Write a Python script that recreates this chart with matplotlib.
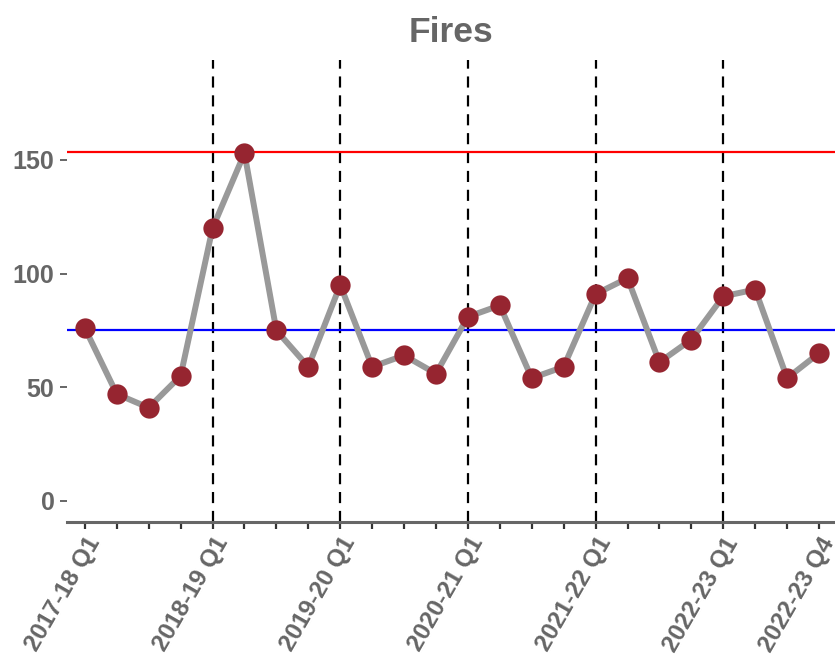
import matplotlib
matplotlib.use("Agg")
import matplotlib.pyplot as plt
import numpy as np

plt.rcParams['font.family'] = ['Liberation Sans', 'DejaVu Sans']

quarters = [f"{y}-{str(y+1)[2:]} Q{q}" for y in range(2017, 2023) for q in range(1, 5)]
values = [76, 47, 41, 55, 120, 153, 75, 59, 95, 59, 64, 56,
          81, 86, 54, 59, 91, 98, 61, 71, 90, 93, 54, 65]
mean_line = 75.1
upper_line = 153.6
yticks = [0, 50, 100, 150]
label_idx = [0, 4, 8, 12, 16, 20, 23]
year_starts = [4, 8, 12, 16, 20]

TXT = '#666666'
fig = plt.figure(figsize=(8.35, 6.55), dpi=100)
ax = fig.add_axes([67/835, 1-522/655, 1-67/835, (522-60)/655])

x = np.arange(len(values))
for xs in year_starts:
    ax.axvline(xs, color='black', lw=1.6, ls=(0, (5, 3.5)), zorder=1)
ax.axhline(upper_line, color='#FF0000', lw=1.6, zorder=2)
ax.axhline(mean_line, color='#0000FF', lw=1.6, zorder=2)
ax.plot(x, values, color='#999999', lw=4.3, zorder=3, solid_capstyle='butt')
ax.plot(x, values, 'o', color='#962530', markersize=14.6, markeredgewidth=0, zorder=4)

ax.set_xlim(-0.56, 23.5)
ax.set_ylim(-9.3, 194)

ax.set_xticks(x)
ax.set_xticklabels([quarters[i] if i in label_idx else '' for i in x],
                   rotation=60, ha='right', rotation_mode='anchor',
                   fontsize=17.5, fontweight='bold', color=TXT)
ax.tick_params(axis='x', length=5, width=1.6, color='#333333', pad=3)
ax.set_yticks(yticks)
ax.set_yticklabels([str(v) for v in yticks], fontsize=18, fontweight='bold', color=TXT)
ax.tick_params(axis='y', length=5, width=1.4, color=TXT, pad=4)

for s in ['top', 'right', 'left']:
    ax.spines[s].set_visible(False)
ax.spines['bottom'].set_color('#666666')
ax.spines['bottom'].set_linewidth(2.2)

ax.set_title('Fires', fontsize=25.5, fontweight='bold', color=TXT, pad=13)

fig.savefig('out.png', dpi=100)
